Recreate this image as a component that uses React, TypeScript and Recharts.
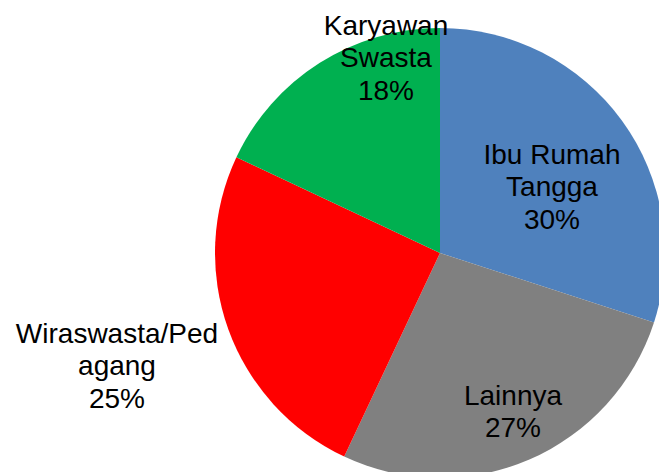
import React from "react";
import { PieChart, Pie, Cell } from "recharts";

const categories = ["Ibu Rumah Tangga", "Lainnya", "Wiraswasta/Pedagang", "Karyawan Swasta"];
const labelLines = [["Ibu Rumah", "Tangga"], ["Lainnya"], ["Wiraswasta/Ped", "agang"], ["Karyawan", "Swasta"]];
const values = [30, 27, 25, 18];
const colors = ["#4F81BD", "#808080", "#FF0000", "#00B050"];

// label block centers, relative to the pie centre
const labelOffsets = [
  { dx: 112, dy: -67 },
  { dx: 73, dy: 158 },
  { dx: -323, dy: 112 },
  { dx: -54, dy: -196 },
];

const total = values.reduce((a, b) => a + b, 0);
const data = categories.map((name, i) => ({ name, value: values[i], lines: labelLines[i] }));

const FONT_SIZE = 28;
const LINE_H = 32.5;

const renderLabel = (props: any) => {
  const { cx, cy, index, value } = props;
  const off = labelOffsets[index];
  const lines = [...labelLines[index], `${Math.round((value / total) * 100)}%`];
  const x = cx + off.dx;
  const cyBlock = cy + off.dy;
  const firstBaseline = cyBlock - ((lines.length - 1) * LINE_H) / 2 + 10;
  return (
    <text
      key={`lbl-${index}`}
      x={x}
      y={firstBaseline}
      textAnchor="middle"
      fill="#000"
      style={{ fontFamily: "Liberation Sans, Arial, sans-serif", fontSize: FONT_SIZE }}
    >
      {lines.map((l, i) => (
        <tspan key={i} x={x} y={firstBaseline + i * LINE_H}>
          {l}
        </tspan>
      ))}
    </text>
  );
};

export default function App() {
  return (
    <div style={{ position: "absolute", left: 0, top: 0, width: 659, height: 472, background: "#fff" }}>
      <PieChart width={659} height={472} margin={{ top: 0, right: 0, bottom: 0, left: 0 }}>
        <Pie
          data={data}
          dataKey="value"
          nameKey="name"
          cx={440}
          cy={253}
          outerRadius={225}
          startAngle={90}
          endAngle={-270}
          stroke="none"
          label={renderLabel}
          labelLine={false}
          isAnimationActive={false}
        >
          {data.map((d, i) => (
            <Cell key={d.name} fill={colors[i]} />
          ))}
        </Pie>
      </PieChart>
    </div>
  );
}
